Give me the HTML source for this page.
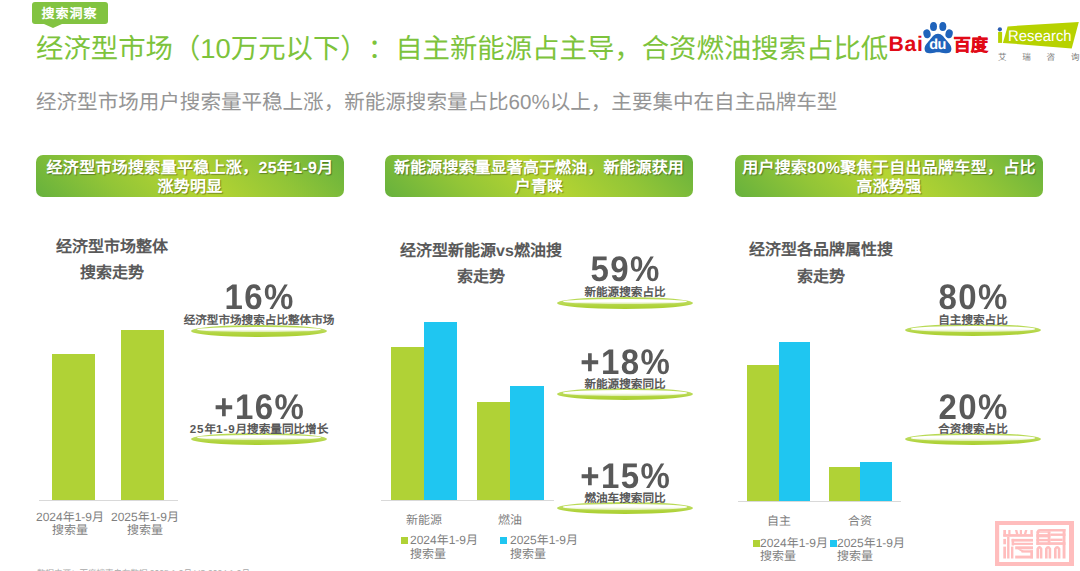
<!DOCTYPE html>
<html lang="zh-CN">
<head>
<meta charset="utf-8">
<style>
html,body{margin:0;padding:0;}
body{text-spacing-trim:space-all;text-rendering:geometricPrecision;width:1080px;height:571px;overflow:hidden;background:#fff;position:relative;font-family:"Liberation Sans",sans-serif;}
.a{position:absolute;white-space:nowrap;}
.tag{left:31.5px;top:2px;width:76px;height:21.5px;background:#82c341;border-radius:3px;}
.tag span{position:absolute;left:10px;top:4px;font-size:13px;line-height:15px;letter-spacing:1px;color:#fff;font-weight:bold;}
.tag:after{content:"";position:absolute;left:12.5px;top:21.5px;border-left:9px solid transparent;border-right:9px solid transparent;border-top:4.5px solid #82c341;}
.title{left:36px;top:34px;font-size:27.4px;line-height:30px;color:#7dc33c;}
.sub{left:36px;top:91px;font-size:20.55px;line-height:24px;color:#959595;}
.ban{top:154.6px;width:308px;height:42.3px;border-radius:7px;
 background:linear-gradient(45deg,#66b13d 0%,#92c537 25%,#b6d532 50%,#92c537 75%,#66b13d 100%);
 color:#fff;font-weight:bold;font-size:16px;line-height:19.6px;text-align:center;text-shadow:1px 1px 1px rgba(0,0,0,.35);}
.ban div{padding-top:4.1px;letter-spacing:0.3px;}
.h{font-size:16px;font-weight:bold;color:#595959;text-align:center;line-height:26px;}
.bar{position:absolute;}
.g{background:#b0d236;}
.b{background:#1fc6f1;}
.axis{position:absolute;height:1px;background:#d9d9d9;}
.lab{font-size:12px;line-height:13.5px;color:#7f7f7f;text-align:center;}
.pct{font-size:35.5px;font-weight:bold;color:#595959;line-height:34px;text-align:center;letter-spacing:1.5px;text-indent:1.5px;transform:scaleX(0.93);}
.pl{z-index:2;font-size:11.6px;font-weight:bold;color:#595959;line-height:13px;text-align:center;text-shadow:0 0 1px #fff;}
.pl .d{letter-spacing:0.9px;}
.ell{position:absolute;width:136px;height:12px;border-radius:50%;
 background:linear-gradient(to bottom,#b5d84c 0%,#bddc60 40%,#b0d33c 75%,#a9cf30 100%);}
.ell:before{content:"";position:absolute;left:6px;right:6px;top:2.2px;height:5.4px;border-radius:50%;background:linear-gradient(to bottom,#ffffff 0%,#ffffff 50%,rgba(255,255,255,0.5) 100%);filter:blur(0.35px);}
.leg{font-size:12px;line-height:13.5px;color:#7f7f7f;}
.sq{position:absolute;width:7px;height:7px;}
</style>
</head>
<body>
<div class="a tag"><span>搜索洞察</span></div>
<div class="a title">经济型市场（10万元以下）：自主新能源占主导，合资燃油搜索占比低</div>
<div class="a sub">经济型市场用户搜索量平稳上涨，新能源搜索量占比60%以上，主要集中在自主品牌车型</div>

<!-- banners -->
<div class="a ban" style="left:36px;"><div>经济型市场搜索量平稳上涨，25年1-9月<br>涨势明显</div></div>
<div class="a ban" style="left:385px;"><div style="letter-spacing:0.1px">新能源搜索量显著高于燃油，新能源获用<br>户青睐</div></div>
<div class="a ban" style="left:735px;"><div>用户搜索80%聚焦于自出品牌车型，占比<br>高涨势强</div></div>

<!-- section 1 -->
<div class="a h" style="left:32px;width:160px;top:234.5px;">经济型市场整体<br>搜索走势</div>
<div class="bar g" style="left:52px;top:354px;width:43px;height:147px;"></div>
<div class="bar g" style="left:121px;top:330px;width:43px;height:171px;"></div>
<div class="axis" style="left:39px;top:500px;width:139px;"></div>
<div class="a lab" style="left:23px;width:94px;top:510.5px;">2024年1-9月<br>搜索量</div>
<div class="a lab" style="left:95px;width:100px;top:510.5px;">2025年1-9月<br>搜索量</div>

<div class="a pct" style="left:179px;width:160px;top:280.3px;">16%</div>
<div class="a pl" style="left:179px;width:160px;top:313.7px;">经济型市场搜索占比整体市场</div>
<div class="ell" style="left:191px;top:324.5px;"></div>

<div class="a pct" style="left:179px;width:160px;top:389.6px;">+16%</div>
<div class="a pl" style="left:179px;width:160px;top:422.7px;"><span class="d">25</span>年<span class="d">1-9</span>月搜索量同比增长</div>
<div class="ell" style="left:191px;top:432.5px;"></div>

<!-- section 2 -->
<div class="a h" style="left:381px;width:200px;top:238.5px;">经济型新能源vs燃油搜<br>索走势</div>
<div class="bar g" style="left:391px;top:347px;width:33px;height:154px;"></div>
<div class="bar b" style="left:424px;top:322px;width:33px;height:179px;"></div>
<div class="bar g" style="left:477px;top:402px;width:33px;height:99px;"></div>
<div class="bar b" style="left:510px;top:386px;width:34px;height:115px;"></div>
<div class="axis" style="left:381px;top:500px;width:173px;"></div>
<div class="a lab" style="left:384px;width:80px;top:514px;">新能源</div>
<div class="a lab" style="left:470px;width:80px;top:514px;">燃油</div>
<div class="sq g" style="left:401px;top:537px;"></div>
<div class="a leg" style="left:410px;top:534px;">2024年1-9月<br>搜索量</div>
<div class="sq b" style="left:500px;top:537px;"></div>
<div class="a leg" style="left:510px;top:534px;">2025年1-9月<br>搜索量</div>

<div class="a pct" style="left:545px;width:160px;top:252.3px;">59%</div>
<div class="a pl" style="left:545px;width:160px;top:286.1px;">新能源搜索占比</div>
<div class="ell" style="left:557px;top:296.5px;"></div>

<div class="a pct" style="left:545px;width:160px;top:344.8px;">+18%</div>
<div class="a pl" style="left:545px;width:160px;top:378.1px;">新能源搜索同比</div>
<div class="ell" style="left:557px;top:388px;"></div>

<div class="a pct" style="left:545px;width:160px;top:459.3px;">+15%</div>
<div class="a pl" style="left:545px;width:160px;top:492.1px;">燃油车搜索同比</div>
<div class="ell" style="left:557px;top:502px;"></div>

<!-- section 3 -->
<div class="a h" style="left:721px;width:200px;top:237px;line-height:27px;">经济型各品牌属性搜<br>索走势</div>
<div class="bar g" style="left:747px;top:365px;width:32px;height:137px;"></div>
<div class="bar b" style="left:779px;top:342px;width:31px;height:160px;"></div>
<div class="bar g" style="left:829px;top:467px;width:31px;height:35px;"></div>
<div class="bar b" style="left:860px;top:462px;width:32px;height:40px;"></div>
<div class="axis" style="left:738px;top:501px;width:163px;"></div>
<div class="a lab" style="left:739px;width:80px;top:515px;">自主</div>
<div class="a lab" style="left:820px;width:80px;top:515px;">合资</div>
<div class="sq g" style="left:753px;top:540px;"></div>
<div class="a leg" style="left:760px;top:536.5px;line-height:13.9px;">2024年1-9月<br>搜索量</div>
<div class="sq b" style="left:830px;top:540px;"></div>
<div class="a leg" style="left:837px;top:536.5px;line-height:13.9px;">2025年1-9月<br>搜索量</div>

<div class="a pct" style="left:893px;width:160px;top:280.3px;">80%</div>
<div class="a pl" style="left:893px;width:160px;top:313.7px;">自主搜索占比</div>
<div class="ell" style="left:905px;top:324px;"></div>

<div class="a pct" style="left:893px;width:160px;top:389.5px;">20%</div>
<div class="a pl" style="left:893px;width:160px;top:422.7px;">合资搜索占比</div>
<div class="ell" style="left:905px;top:433px;"></div>


<!-- baidu logo -->
<div class="a" style="left:888.5px;top:32.5px;font-size:21.2px;line-height:24px;font-weight:bold;color:#e10a17;letter-spacing:0.7px;">Bai</div>
<svg class="a" style="left:918px;top:18px;" width="40" height="38" viewBox="0 0 40 38">
 <g fill="#1f63bb">
  <ellipse cx="15.5" cy="8.6" rx="3.5" ry="4.5"/>
  <ellipse cx="24.8" cy="8.6" rx="3.5" ry="4.5"/>
  <ellipse cx="9" cy="15.8" rx="3.6" ry="4.5" transform="rotate(-15 9 15.8)"/>
  <ellipse cx="31.1" cy="15.8" rx="3.6" ry="4.5" transform="rotate(15 31.1 15.8)"/>
  <path d="M20 15.8 C23.8 15.8 25.8 19.2 28.4 22.2 C31 25.2 33.6 27.5 33.4 31.2 C33.2 34.6 30.2 35.6 27.2 35.2 C24.6 34.9 22.5 34.2 20 34.2 C17.5 34.2 15.4 34.9 12.8 35.2 C9.8 35.6 6.8 34.6 6.6 31.2 C6.4 27.5 9 25.2 11.6 22.2 C14.2 19.2 16.2 15.8 20 15.8 Z"/>
 </g>
 <text x="19.6" y="31.3" text-anchor="middle" font-family="Liberation Sans" font-size="14.5" font-weight="bold" fill="#fff" letter-spacing="-0.4">du</text>
</svg>
<div class="a" style="left:953.5px;top:35px;font-size:17.3px;line-height:20px;font-weight:bold;-webkit-text-stroke:0.5px #e10a17;color:#e10a17;">百度</div>

<!-- iResearch logo -->
<svg class="a" style="left:995px;top:15px;" width="85" height="50" viewBox="0 0 85 50">
 <polygon points="12.6,11.4 83.8,6.9 76.7,33.4 7.9,27.9" fill="#b7d200"/>
 <rect x="3.1" y="16.9" width="4" height="11" fill="#b7d200"/>
 <circle cx="4.9" cy="14.3" r="2.1" fill="#2a5db0"/>
 <text x="13" y="26.4" font-family="Liberation Sans" font-size="15.4" fill="#fff" textLength="63.6" lengthAdjust="spacingAndGlyphs">Research</text>
</svg>
<div class="a" style="left:998px;top:52px;font-size:8.5px;line-height:10px;color:#7a7a7a;letter-spacing:15.8px;">艾瑞咨询</div>

<!-- watermark seal -->
<svg class="a" style="left:995px;top:521px;" width="80" height="46" viewBox="0 0 80 46">
 <g fill="#ffbdbd">
  <path d="M0 0H79V45H0Z M4.2 3.9V41H74V3.9Z" fill-rule="evenodd"/>
  <rect x="8.3" y="9" width="2.7" height="6.5"/>
  <rect x="8.3" y="13.1" width="29.7" height="2.7"/>
  <rect x="13.3" y="9" width="2.2" height="4.5"/>
  <path d="M19.9 9H22.3L23.5 13.5H21.1Z"/>
  <rect x="24.8" y="9" width="2.2" height="4.5"/>
  <path d="M30 9H32.4L31.2 13.5H28.8Z"/>
  <rect x="35.4" y="9" width="2.4" height="4.5"/>
  <rect x="8.3" y="17.9" width="2.7" height="5.4"/>
  <rect x="8.3" y="25.6" width="2.7" height="11.9"/>
  <rect x="12.1" y="15.8" width="2.4" height="21.7"/>
  <rect x="16" y="25.6" width="2.4" height="11.9"/>
  <rect x="16.6" y="17.9" width="2.5" height="6.6"/>
  <rect x="16.6" y="17.9" width="21.4" height="2.7"/>
  <rect x="19" y="21.8" width="19" height="2.1"/>
  <rect x="20.2" y="25.3" width="17.8" height="3"/>
  <path d="M22.5 28.3H26L30.5 31H27Z"/>
  <rect x="26.5" y="29.3" width="11.5" height="2.3"/>
  <rect x="35.3" y="29.3" width="2.7" height="8"/>
  <rect x="20.2" y="34.6" width="17.8" height="2.9"/>
 </g>
 <g fill="#ffbdbd">
  <path d="M41.4 12.5 Q41.4 8.1 45 8.1 H70.5 V10.5 H45 Q44.1 10.5 44.1 12 V23.9 H41.4Z"/>
  <rect x="41.4" y="10.5" width="14" height="1.2"/>
  <rect x="41.4" y="13.1" width="14" height="3.3"/>
  <rect x="41.4" y="17.9" width="14" height="2.4"/>
  <rect x="52.7" y="10.5" width="2.7" height="13.4"/>
  <rect x="55.4" y="12.5" width="15.1" height="2.4"/>
  <rect x="55.4" y="17.6" width="12.2" height="2.4"/>
  <rect x="67.6" y="8.1" width="2.9" height="29.4"/>
  <rect x="41.4" y="21.2" width="29.1" height="2.7"/>
 </g>
 <g fill="none" stroke="#ffbdbd" stroke-width="2.6">
  <path d="M42.7 37.5V27.8Q44.4 24.6 46.1 27.8V37.5"/>
  <path d="M51.3 37.5V27.8Q53.1 24.6 54.9 27.8V37.5"/>
  <path d="M60.3 37.5V27.8Q62.2 24.6 64.1 27.8V37.5"/>
 </g>
</svg>

<!-- source -->
<div class="a" style="left:37px;top:567.5px;font-size:8.5px;line-height:10px;color:#a8a8a8;">数据来源：百度搜索自有数据 2025.1-9月 VS 2024.1-9月</div>

</body>
</html>
